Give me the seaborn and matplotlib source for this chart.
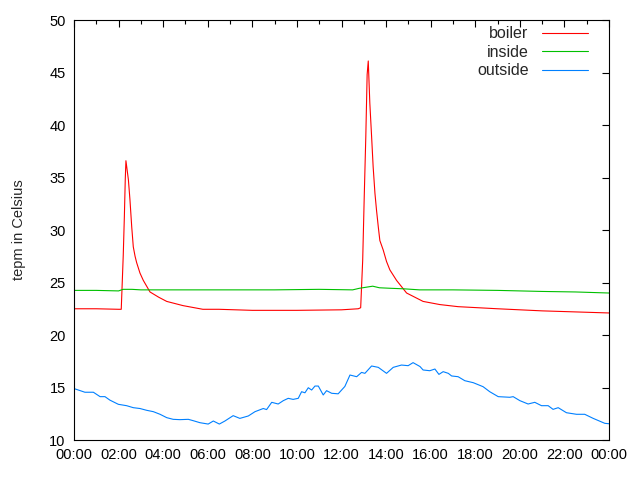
# setup

import pandas as pd
import matplotlib.pyplot as plt
import seaborn as sns

# data (x in hours since midnight)

boiler_hours = [0, 1.0, 2.0, 2.12, 2.21, 2.26, 2.3, 2.33, 2.44, 2.51, 2.59, 2.66, 2.74, 2.81,
                2.96, 3.11, 3.41, 3.8, 4.16, 4.89, 5.78, 6.5, 8.0, 10.0, 12.0, 12.75, 12.86,
                12.95, 13.02, 13.09, 13.15, 13.2, 13.27, 13.35, 13.42, 13.5, 13.57, 13.65,
                13.72, 13.87, 14.02, 14.17, 14.47, 14.92, 15.66, 16.41, 17.23, 19.0, 21.0, 24.0]
boiler_temp = [22.5, 22.5, 22.45, 22.45, 27.6, 31.3, 34.8, 36.6, 34.8, 32.9, 30.3, 28.4, 27.5,
               26.9, 25.9, 25.2, 24.1, 23.6, 23.2, 22.8, 22.45, 22.45, 22.35, 22.35, 22.4,
               22.5, 22.6, 27.1, 33.2, 38.9, 44.8, 46.1, 42.1, 38.9, 36.0, 33.5, 31.9, 30.3,
               29.0, 28.1, 27.0, 26.2, 25.2, 24.0, 23.2, 22.9, 22.7, 22.5, 22.3, 22.1]

inside_hours = [0, 1.0, 2.0, 2.2, 2.6, 3.0, 6.0, 9.0, 11.0, 12.5, 12.8, 13.1, 13.4, 13.7, 14.2,
                14.8, 15.5, 17.0, 19.0, 21.0, 22.5, 24.0]
inside_temp = [24.25, 24.25, 24.2, 24.35, 24.35, 24.3, 24.3, 24.3, 24.35, 24.3, 24.45, 24.55,
               24.65, 24.5, 24.45, 24.4, 24.3, 24.3, 24.25, 24.15, 24.1, 24.0]

outside_hours = [0, 0.49, 0.87, 1.17, 1.39, 1.61, 1.99, 2.36, 2.66, 2.96, 3.26, 3.56, 3.86, 4.16,
                 4.45, 4.75, 5.13, 5.35, 5.65, 6.02, 6.25, 6.52, 6.77, 7.14, 7.44, 7.82, 8.12,
                 8.49, 8.64, 8.87, 9.16, 9.39, 9.61, 9.83, 10.06, 10.21, 10.36, 10.51, 10.66,
                 10.81, 10.96, 11.18, 11.33, 11.56, 11.85, 12.15, 12.38, 12.68, 12.9, 13.05,
                 13.35, 13.65, 14.02, 14.32, 14.69, 14.99, 15.21, 15.52, 15.66, 15.96, 16.19,
                 16.37, 16.56, 16.79, 16.94, 17.23, 17.53, 17.91, 18.35, 18.65, 19.03, 19.55,
                 19.7, 20.0, 20.37, 20.67, 20.97, 21.27, 21.49, 21.72, 22.09, 22.54, 22.91,
                 23.29, 23.81, 24.0]
outside_temp = [14.9, 14.55, 14.55, 14.13, 14.13, 13.8, 13.4, 13.27, 13.08, 13.0, 12.83, 12.7,
                12.45, 12.13, 11.97, 11.94, 11.97, 11.84, 11.65, 11.52, 11.81, 11.52, 11.81,
                12.32, 12.06, 12.29, 12.7, 13.0, 12.9, 13.59, 13.43, 13.75, 13.97, 13.87, 13.97,
                14.6, 14.5, 14.98, 14.76, 15.14, 15.14, 14.29, 14.7, 14.45, 14.4, 15.1, 16.19,
                16.03, 16.44, 16.35, 17.05, 16.92, 16.35, 16.92, 17.14, 17.08, 17.37, 17.0,
                16.67, 16.6, 16.76, 16.25, 16.51, 16.35, 16.1, 16.03, 15.65, 15.46, 15.08, 14.6,
                14.13, 14.07, 14.13, 13.75, 13.43, 13.59, 13.27, 13.27, 12.92, 13.08, 12.6,
                12.45, 12.45, 12.06, 11.59, 11.55]

tick_hours = list(range(0, 25, 2))
tick_labels = ['%02d:00' % (h % 24) for h in tick_hours]

df = pd.concat([
    pd.DataFrame({'hour': boiler_hours, 'temp': boiler_temp, 'sensor': 'boiler'}),
    pd.DataFrame({'hour': inside_hours, 'temp': inside_temp, 'sensor': 'inside'}),
    pd.DataFrame({'hour': outside_hours, 'temp': outside_temp, 'sensor': 'outside'}),
])

# plot

sns.set_style('white')
plt.rcParams['font.family'] = ['Liberation Sans', 'DejaVu Sans']

fig = plt.figure(figsize=(6.4, 4.8), dpi=100)
ax = fig.add_axes([0.1156, 0.0833, 0.836, 0.875])

sns.lineplot(data=df, x='hour', y='temp', hue='sensor', sort=False, estimator=None,
             palette={'boiler': '#ff0000', 'inside': '#00c000', 'outside': '#0080ff'},
             linewidth=0.8, ax=ax)

ax.set_xlim(0, 24)
ax.set_ylim(10, 50)
ax.set_xticks(tick_hours)
ax.set_xticklabels(tick_labels)
ax.set_xticks(range(0, 25), minor=True)
ax.set_yticks(range(10, 51, 5))
ax.tick_params(axis='both', which='both', direction='in', top=True, right=True,
               labelsize=10.5, colors='black', width=0.8)
ax.tick_params(axis='both', which='major', length=5, pad=6)
ax.tick_params(axis='x', which='minor', length=3)
for s in ax.spines.values():
    s.set_color('black')
    s.set_linewidth(0.8)

ax.set_xlabel('')
ax.set_ylabel('tepm in Celsius', fontsize=10.5, labelpad=17)

leg = ax.legend(loc='upper right', bbox_to_anchor=(0.981, 1.012), frameon=False,
                markerfirst=False, fontsize=11.5, handlelength=2.85, handletextpad=0.85,
                labelspacing=0.22, borderaxespad=0.3, title=None)

fig.savefig('out.png', dpi=100)
